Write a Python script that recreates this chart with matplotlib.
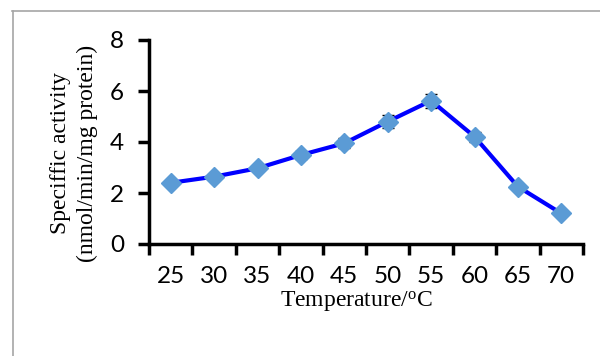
import matplotlib.pyplot as plt
from matplotlib.lines import Line2D
import numpy as np

# Temperature profile of the enzyme
temps = ["25", "30", "35", "40", "45", "50", "55", "60", "65", "70"]
activity = [2.40, 2.64, 2.97, 3.49, 3.95, 4.80, 5.62, 4.21, 2.25, 1.20]
errors = [0.10, 0.10, 0.12, 0.15, 0.20, 0.25, 0.28, 0.20, 0.12, 0.08]

fig = plt.figure(figsize=(6.0, 3.56), dpi=100)
ax = fig.add_axes([149 / 600, 1 - 244 / 356, 434 / 600, 204 / 356])

x = np.arange(len(temps))
ax.errorbar(x, activity, yerr=errors, color="#0000ff", lw=3, ecolor="black",
            elinewidth=1, capsize=4.5, capthick=1, zorder=2)
ax.plot(x, activity, ls="none", marker="D", ms=10, color="#5b9bd5", zorder=3)

ax.set_xlim(-0.5, len(temps) - 0.5)
ax.set_ylim(0, 8)
ax.set_yticks([0, 2, 4, 6, 8])

# category axis: tick marks between categories, labels at the centres
ax.set_xticks(np.arange(len(temps) + 1) - 0.5)
ax.set_xticklabels([])
ax.set_xticks(x, minor=True)
ax.set_xticklabels(temps, minor=True)
ax.tick_params(axis="x", which="minor", length=0, pad=16)
ax.tick_params(axis="x", which="major", length=8, width=2.5, direction="out")
ax.tick_params(axis="y", length=8, width=2.5, direction="out", pad=10)

for lab in ax.get_xticklabels(minor=True) + ax.get_yticklabels():
    lab.set_fontfamily("Lato")
    lab.set_fontsize(17.5)

for side in ["top", "right"]:
    ax.spines[side].set_visible(False)
for side in ["left", "bottom"]:
    ax.spines[side].set_linewidth(2.5)

ax.set_xlabel("Temperature/$\\mathregular{^o}$C", family="Liberation Serif", fontsize=17)
ax.xaxis.set_label_coords((356 - 149) / 434, -(301 - 244) / 204)
ax.xaxis.label.set_va("center")
ax.set_ylabel("Speciffic activity\n(nmol/min/mg protein)", family="Liberation Serif",
              fontsize=17, linespacing=1.3)
ax.yaxis.set_label_coords(-(149 - 74) / 434, (244 - 153) / 204)
ax.yaxis.label.set_va("center")

# grey frame of the chart area
fig.add_artist(Line2D([12 / 600, 1.0], [1 - 10.5 / 356] * 2, color="#a6a6a6", lw=1.2))
fig.add_artist(Line2D([12.5 / 600] * 2, [0.0, 1 - 10.5 / 356], color="#a6a6a6", lw=1.2))

fig.savefig("out.png", dpi=100)
